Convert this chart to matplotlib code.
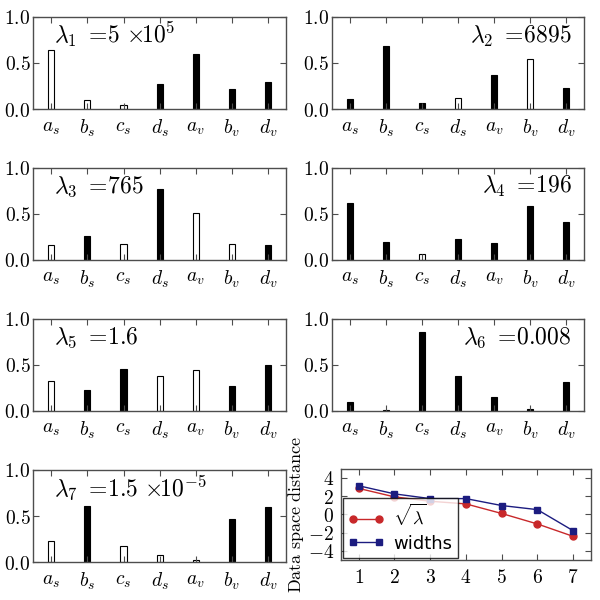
import matplotlib
matplotlib.use('Agg')
import matplotlib.pyplot as plt

plt.rcParams['mathtext.fontset'] = 'cm'
plt.rcParams['font.family'] = 'DejaVu Sans'

# components of the 7 eigenvectors (negative = drawn as open bar)
labels = [r'$a_s$', r'$b_s$', r'$c_s$', r'$d_s$', r'$a_v$', r'$b_v$', r'$d_v$']
v1 = [-0.64, -0.096, -0.05, 0.27, 0.60, 0.22, 0.29]
v2 = [0.107, 0.686, 0.068, -0.118, 0.368, -0.546, 0.229]
v3 = [-0.16, 0.255, -0.175, 0.767, -0.509, -0.175, 0.164]
v4 = [0.622, 0.193, -0.065, 0.222, 0.189, 0.589, 0.407]
v5 = [-0.326, 0.232, 0.453, -0.380, -0.442, 0.268, 0.493]
v6 = [0.101, 0.014, 0.859, 0.384, 0.156, 0.025, 0.319]
v7 = [-0.231, 0.61, -0.18, -0.076, -0.025, 0.466, 0.596]
vecs = [v1, v2, v3, v4, v5, v6, v7]
lam_text = [r'$\lambda_1\ {=}\!5\ {\times}\!10^5$', r'$\lambda_2\ {=}\!6895$',
            r'$\lambda_3\ {=}\!765$', r'$\lambda_4\ {=}\!196$',
            r'$\lambda_5\ {=}\!1.6$', r'$\lambda_6\ {=}\!0.008$',
            r'$\lambda_7\ {=}\!1.5\ {\times}\!10^{-5}$']

# bottom right panel
idx = [1, 2, 3, 4, 5, 6, 7]
sqrt_lam = [2.85, 1.92, 1.44, 1.15, 0.10, -1.05, -2.41]
widths = [3.14, 2.25, 1.73, 1.73, 0.97, 0.52, -1.79]

fig = plt.figure(figsize=(6, 6), dpi=100)

lefts = [0.0555, 0.553]
bottoms = [0.818, 0.5667, 0.315, 0.0628]


def style(ax):
    ax.tick_params(direction='in', top=True, right=True, labelsize=14,
                   length=4, width=0.8, color='0.3')
    ax.tick_params(axis='y', pad=2)
    ax.tick_params(axis='x', pad=6)
    for s in ax.spines.values():
        s.set_color('0.3')
        s.set_linewidth(1)


for i, v in enumerate(vecs):
    row, col = i // 2, i % 2
    ax = fig.add_axes([lefts[col], bottoms[row], 0.421, 0.154])
    xs = range(len(v))
    h = [abs(a) for a in v]
    fc = ['black' if a > 0 else 'white' for a in v]
    ax.bar(xs, h, width=0.17, color=fc, edgecolor='black', linewidth=0.8)
    ax.set_xlim(-0.5, 6.5)
    ax.set_ylim(0, 1.0)
    ax.set_xticks(list(xs))
    ax.set_xticklabels(labels)
    ax.set_yticks([0, 0.5, 1.0])
    ax.set_yticklabels([r'$0.0$', r'$0.5$', r'$1.0$'])
    style(ax)
    if col == 0:
        ax.text(0.08, 0.72, lam_text[i], transform=ax.transAxes,
                fontsize=17, va='baseline', ha='left')
    else:
        ax.text(0.95, 0.72, lam_text[i], transform=ax.transAxes,
                fontsize=17, va='baseline', ha='right')

ax = fig.add_axes([0.568, 0.0667, 0.417, 0.152])
ax.plot(idx, sqrt_lam, '-o', color='#c8282a', ms=5, lw=1, mec='#c8282a',
        label=r'$\sqrt{\lambda}$')
ax.plot(idx, widths, '-s', color='#1c1c80', ms=5, lw=1, mec='#1c1c80',
        label='widths')
ax.set_xlim(0.5, 7.5)
ax.set_ylim(-5, 5)
ax.set_xticks(idx)
ax.set_xticklabels([r'$%d$' % k for k in idx])
ax.set_yticks([4, 2, 0, -2, -4])
ax.set_yticklabels([r'$4$', r'$2$', r'$0$', r'$-2$', r'$-4$'])
style(ax)
ax.tick_params(axis='y', pad=5)
ax.set_ylabel(r'$\mathrm{Data\ space\ distance}$', fontsize=13, labelpad=1)
leg = ax.legend(loc='lower left', numpoints=2, fontsize=13, fancybox=False,
                borderaxespad=0.1, handlelength=2, handletextpad=0.5,
                labelspacing=0.3, borderpad=0.3)
leg.get_frame().set_edgecolor('black')

fig.savefig('out.png', dpi=100)
